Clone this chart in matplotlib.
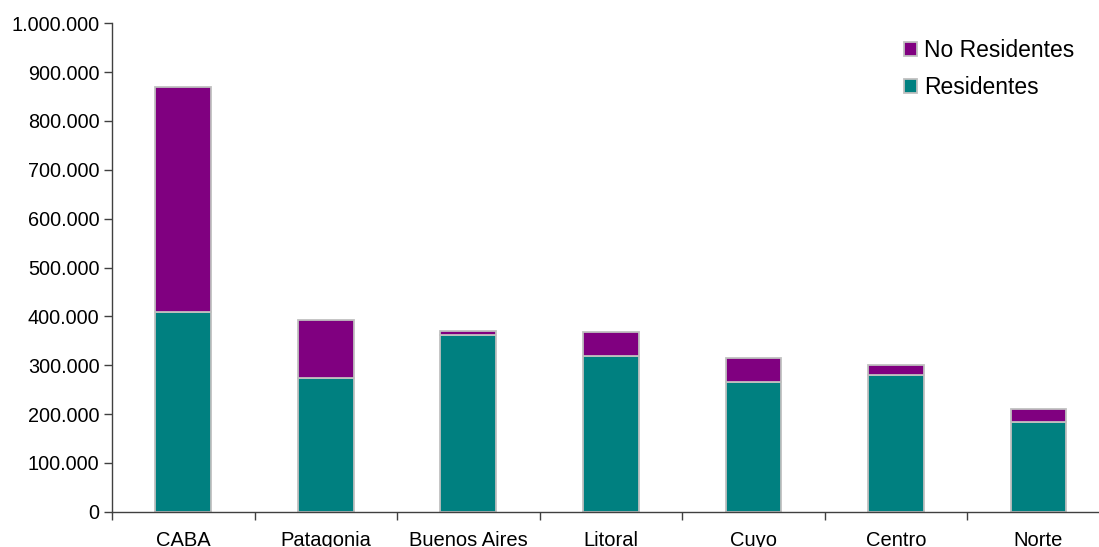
"""
Stacked bar chart: residentes / no residentes por region.
"""

import matplotlib.pyplot as plt
import numpy as np
from matplotlib.ticker import FuncFormatter, FixedLocator

plt.switch_backend("Agg")
plt.rcParams["font.family"] = ["Liberation Sans", "DejaVu Sans"]

regiones = ["CABA", "Patagonia", "Buenos Aires", "Litoral", "Cuyo", "Centro", "Norte"]
residentes = [408000, 274000, 362000, 319000, 266000, 280000, 184000]
no_residentes = [462000, 118000, 7000, 48000, 49000, 20000, 27000]

TEAL = "#008080"
PURPLE = "#800080"
EDGE = "#c0c0c0"

W, H = 1099, 547
fig = plt.figure(figsize=(W / 100, H / 100), dpi=100)
left, right = 112 / W, 1109.6 / W
bottom, top = (H - 511.7) / H, (H - 23.3) / H
ax = fig.add_axes([left, bottom, right - left, top - bottom])

x = np.arange(len(regiones))
b_res = ax.bar(x, residentes, width=0.39, color=TEAL, edgecolor=EDGE, linewidth=1.3,
               label="Residentes", zorder=2)
b_nores = ax.bar(x, no_residentes, width=0.39, bottom=residentes, color=PURPLE,
                 edgecolor=EDGE, linewidth=1.3, label="No Residentes", zorder=2)

ax.set_xlim(-0.5, len(regiones) - 0.5)
ax.set_ylim(0, 1000000)
ax.set_yticks(np.arange(0, 1000001, 100000))
ax.yaxis.set_major_formatter(FuncFormatter(lambda v, _: f"{int(v):,}".replace(",", ".")))

# category labels centred, tick marks on the boundaries
ax.set_xticks(x)
ax.set_xticklabels(regiones)
ax.tick_params(axis="x", which="major", length=0, pad=14, labelsize=14.5)
ax.xaxis.set_minor_locator(FixedLocator(np.arange(-0.5, len(regiones), 1.0)))
ax.tick_params(axis="x", which="minor", length=6, width=1, color="#404040")
ax.tick_params(axis="y", length=6, width=1, color="#404040", labelsize=14.3, pad=3)

for side in ("top", "right"):
    ax.spines[side].set_visible(False)
for side in ("left", "bottom"):
    ax.spines[side].set_color("#404040")
    ax.spines[side].set_linewidth(1)

ax.legend(handles=[b_nores, b_res], labels=["No Residentes", "Residentes"],
          loc="upper left", bbox_to_anchor=(893 / W, (H - 27.5) / H),
          bbox_transform=fig.transFigure, frameon=False, fontsize=16.5,
          handlelength=0.55, handleheight=0.55, handletextpad=0.3, labelspacing=0.6,
          borderpad=0)

fig.savefig("out.png", dpi=100)
plt.close(fig)
